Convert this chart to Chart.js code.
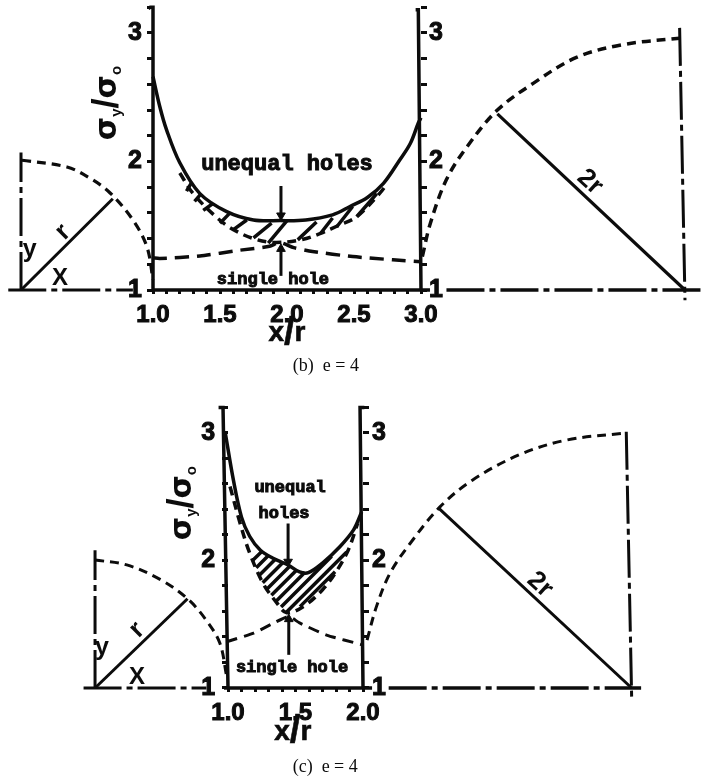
<!DOCTYPE html>
<html>
<head>
<meta charset="utf-8">
<style>
    html, body { margin: 0; background: #fff; }
    canvas { position: absolute; left: 0; display: block; }
</style>
<script src="https://cdn.jsdelivr.net/npm/chart.js@4"></script>
</head>
<body>
<canvas id="panel-b" width="702" height="390" style="top:0"></canvas>
<canvas id="panel-c" width="702" height="388" style="top:390px"></canvas>
<script>
// ---- shared tick labels ----
const yTicks = [1, 1.2, 1.4, 1.6, 1.8, 2, 2.2, 2.4, 2.6, 2.8, 3, 3.2];
const yLabelled = [1, 2, 3];

// ---- panel (b) e = 4 ----
const xTicksB = [1, 1.1, 1.2, 1.3, 1.4, 1.5, 1.6, 1.7, 1.8, 1.9, 2, 2.1, 2.2, 2.3, 2.4, 2.5, 2.6, 2.7, 2.8, 2.9, 3];
const xLabelledB = [1, 1.5, 2, 2.5, 3];

const unequalXB = [1, 1.05, 1.1, 1.2, 1.35, 1.55, 1.75, 1.95, 2.14, 2.34, 2.47, 2.6, 2.72, 2.84, 2.92, 2.98, 3];
const unequalYB = [2.66, 2.43, 2.25, 1.99, 1.75, 1.61, 1.545, 1.54, 1.545, 1.585, 1.65, 1.72, 1.83, 2.01, 2.14, 2.3, 2.34];
const lowerXB = [1.2, 1.3, 1.48, 1.6, 1.75, 1.9, 2.1, 2.25, 2.4, 2.52, 2.69, 2.75];
const lowerYB = [1.91, 1.75, 1.56, 1.47, 1.4, 1.37, 1.39, 1.44, 1.51, 1.57, 1.75, 1.83];
const singleXB = [1, 1.05, 1.35, 1.65, 1.87, 1.945, 2.05, 2.19, 2.49, 2.79, 3];
const singleYB = [1.25, 1.245, 1.265, 1.31, 1.34, 1.37, 1.33, 1.3, 1.26, 1.235, 1.22];
const hatchXB = [1.25, 1.29, null, 1.31, 1.36, null, 1.375, 1.45, null, 1.5, 1.575, null, 1.6, 1.7, null, 1.75, 1.885, null, 1.86, 2, null, 2.08, 2.22, null, 2.25, 2.34, null, 2.37, 2.49, null, 2.52, 2.67];
const hatchYB = [1.77, 1.84, null, 1.69, 1.75, null, 1.62, 1.675, null, 1.52, 1.6, null, 1.47, 1.545, null, 1.405, 1.52, null, 1.365, 1.54, null, 1.39, 1.53, null, 1.44, 1.56, null, 1.49, 1.65, null, 1.57, 1.75];
const smallArcXB = [0.022, 0.358, 0.53, 0.68, 0.85, 0.955, 1];
const smallArcYB = [2.01, 1.957, 1.87, 1.755, 1.545, 1.335, 1.08];
const bigArcXB = [3.01, 3.07, 3.19, 3.34, 3.57, 3.84, 4.16, 4.51, 4.93];
const bigArcYB = [1.26, 1.52, 1.86, 2.11, 2.4, 2.61, 2.81, 2.91, 2.96];

// ---- panel (c) e = 4 ----
const xTicksC = [1, 1.1, 1.2, 1.3, 1.4, 1.5, 1.6, 1.7, 1.8, 1.9, 2];
const xLabelledC = [1, 1.5, 2];

const unequalXC = [0.98, 1.04, 1.1, 1.16, 1.24, 1.33, 1.445, 1.53, 1.595, 1.7, 1.83, 1.93, 1.99];
const unequalYC = [3, 2.63, 2.34, 2.19, 2.08, 2.02, 1.965, 1.91, 1.905, 1.98, 2.11, 2.24, 2.38];
const lowerXC = [1.015, 1.09, 1.16, 1.26, 1.36, 1.435, 1.56, 1.7, 1.8, 1.89, 1.96];
const lowerYC = [2.58, 2.29, 2.06, 1.82, 1.67, 1.59, 1.64, 1.77, 1.91, 2.08, 2.29];
const singleXC = [0.99, 1.19, 1.34, 1.45, 1.53, 1.73, 1.99];
const singleYC = [1.363, 1.43, 1.51, 1.56, 1.51, 1.415, 1.34];
const hatchXC = [1.184, 1.252, null, 1.209, 1.301, null, 1.232, 1.35, null, 1.257, 1.405, null, 1.289, 1.459, null, 1.321, 1.509, null, 1.356, 1.57, null, 1.393, 1.768, null, 1.432, 1.879, null, 1.533, 1.793];
const hatchYC = [2.002, 2.072, null, 1.943, 2.041, null, 1.884, 2.009, null, 1.826, 1.983, null, 1.776, 1.957, null, 1.727, 1.925, null, 1.68, 1.907, null, 1.635, 2.033, null, 1.594, 2.067, null, 1.638, 1.912];
const smallArcXC = [0.015, 0.25, 0.5, 0.7, 0.84, 0.94, 0.99];
const smallArcYC = [2.004, 1.965, 1.85, 1.7, 1.53, 1.35, 1.09];
const bigArcXC = [2.03, 2.1, 2.2, 2.35, 2.57, 2.81, 3.16, 3.51, 3.95];
const bigArcYC = [1.376, 1.64, 1.9, 2.135, 2.42, 2.63, 2.83, 2.945, 3];

const INK = '#0c0c0c';

function zip(xs, ys) {
    return xs.map(function(x, i) { return {x: x, y: ys[i]}; });
}

// a plain polyline through the panel's own scales
function line(xs, ys, width, dash, tension) {
    return {
        data: zip(xs, ys),
        showLine: true,
        pointRadius: 0,
        borderColor: INK,
        borderWidth: width,
        borderDash: dash || [],
        tension: tension || 0,
        clip: false,
        spanGaps: false,
    };
}

function arrowHead(x, y, rotation) {
    return {
        data: [{x: x, y: y}],
        pointStyle: 'triangle',
        pointRadius: 5,
        rotation: rotation,
        backgroundColor: INK,
        borderColor: INK,
        clip: false,
    };
}

const DASH = [9, 6];
const DASH_DOT = [38, 5, 6, 5];

// text notes, placed with the data scales
const noteLabels = {
    id: 'noteLabels',
    afterDatasetsDraw: function(chart, args, options) {
        const ctx = chart.ctx;
        options.notes.forEach(function(note) {
            ctx.save();
            ctx.translate(chart.scales.x.getPixelForValue(note.x), chart.scales.y.getPixelForValue(note.y));
            ctx.rotate((note.angle || 0) * Math.PI / 180);
            ctx.fillStyle = INK;
            ctx.strokeStyle = INK;
            ctx.lineWidth = note.heavy || 0;
            ctx.textBaseline = 'middle';
            ctx.textAlign = 'center';
            // parts are laid out one after another, so subscripts can be smaller
            let parts = note.parts || [{text: note.text, font: note.font, dy: 0}];
            let total = 0;
            parts.forEach(function(part) {
                ctx.font = part.font;
                total += ctx.measureText(part.text).width;
            });
            let cursor = -total / 2;
            parts.forEach(function(part) {
                ctx.font = part.font;
                let w = ctx.measureText(part.text).width;
                ctx.fillText(part.text, cursor + w / 2, part.dy || 0);
                if (note.heavy) {
                    ctx.strokeText(part.text, cursor + w / 2, part.dy || 0);
                }
                cursor += w;
            });
            ctx.restore();
        });
    }
};

function sigmaParts() {
    const big = 'bold 30px "DejaVu Sans"';
    const small = 'bold 15px "Liberation Sans"';
    return [
        {text: 'σ', font: big},
        {text: 'y', font: small, dy: 9},
        {text: '/', font: 'bold 36px "Liberation Sans"'},
        {text: 'σ', font: big},
        {text: 'o', font: small, dy: 9},
    ];
}

function slashParts() {
    const letter = 'bold 28px "Liberation Sans"';
    return [
        {text: 'x', font: letter},
        {text: '/', font: 'bold 38px "Liberation Sans"'},
        {text: 'r', font: letter},
    ];
}

function drawPanel(id, panel) {
    new Chart(document.getElementById(id), {
        type: 'scatter',
        data: {datasets: panel.datasets},
        options: {
            responsive: false,
            animation: false,
            events: [],
            layout: {padding: 0, autoPadding: false},
            plugins: {
                legend: {display: false},
                title: {display: false},
                tooltip: {enabled: false},
                noteLabels: {notes: panel.notes},
            },
            scales: {
                x: {
                    type: 'linear',
                    min: panel.xLimits[0],
                    max: panel.xLimits[1],
                    position: {y: 1},
                    border: {display: false},
                    grid: {drawOnChartArea: false, tickLength: 4, tickWidth: 3, tickColor: INK},
                    afterBuildTicks: function(scale) {
                        scale.ticks = panel.xTicks.map(function(v) { return {value: v}; });
                    },
                    afterFit: zeroPadding,
                    ticks: {
                        autoSkip: false,
                        maxRotation: 0,
                        padding: 7,
                        color: INK,
                        textStrokeColor: INK,
                        textStrokeWidth: 1,
                        font: {family: '"Liberation Sans"', size: 24, weight: 'bold'},
                        callback: function(value) {
                            return panel.xLabelled.indexOf(value) >= 0 ? value.toFixed(1) : '';
                        }
                    }
                },
                y: tickScale(panel, {x: 1}),
                yRight: tickScale(panel, {x: panel.rightTickPos}),
                yLabelLeft: labelScale(panel, {x: panel.leftLabelPos}),
                yLabelRight: labelScale(panel, {x: panel.rightLabelPos}),
            }
        },
        plugins: [noteLabels]
    });
}

function zeroPadding(scale) {
    scale.paddingLeft = scale.paddingRight = scale.paddingTop = scale.paddingBottom = 0;
}

function tickScale(panel, position) {
    return {
        type: 'linear',
        min: panel.yLimits[0],
        max: panel.yLimits[1],
        position: position,
        border: {display: false},
        grid: {drawOnChartArea: false, tickLength: 6, tickWidth: 3, tickColor: INK},
        afterBuildTicks: function(scale) {
            scale.ticks = yTicks.map(function(v) { return {value: v}; });
        },
        afterFit: zeroPadding,
        ticks: {display: false, autoSkip: false}
    };
}

function labelScale(panel, position) {
    return {
        type: 'linear',
        min: panel.yLimits[0],
        max: panel.yLimits[1],
        position: position,
        border: {display: false},
        grid: {display: false, drawTicks: false},
        afterBuildTicks: function(scale) {
            scale.ticks = yLabelled.map(function(v) { return {value: v}; });
        },
        afterFit: zeroPadding,
        ticks: {
            autoSkip: false,
            padding: 0,
            color: INK,
            textStrokeColor: INK,
            textStrokeWidth: 1,
            font: {family: '"Liberation Sans"', size: 25, weight: 'bold'},
            callback: function(value) { return String(value); }
        }
    };
}

drawPanel('panel-b', {
    xLimits: [-0.1418, 5.097],
    yLimits: [0.2218, 3.2568],
    xTicks: xTicksB,
    xLabelled: xLabelledB,
    rightTickPos: 3.045,
    leftLabelPos: 0.918,
    rightLabelPos: 3.164,
    datasets: [
        line([1, 3.067], [1, 1], 3.5),
        line([0.965, 0.98, 1, 1], [3.19, 3.2, 3.2, 1], 3.5),
        line([2.96, 2.98, 3], [3.18, 3.18, 1], 3.5),
        line(unequalXB, unequalYB, 3.5, null, 0.35),
        line(lowerXB, lowerYB, 3.5, DASH, 0.35),
        line(singleXB, singleYB, 3.5, [14, 8], 0.2),
        line(hatchXB, hatchYB, 3.5),
        line(smallArcXB, smallArcYB, 3.2, DASH, 0.35),
        line(bigArcXB, bigArcYB, 3.5, DASH, 0.35),
        line([0.015, 0.7], [1, 1.71], 3),
        line([3.57, 4.97], [2.37, 1], 3.2),
        line([0.015, 0.015], [1, 2.07], 3, DASH_DOT),
        line([-0.08, 0.85], [1, 1], 3, DASH_DOT),
        line([3.19, 5.1], [1, 1], 3.5, DASH_DOT),
        line([4.93, 4.97], [3.04, 0.92], 3, DASH_DOT),
        line([1.955, 1.955], [1.81, 1.56], 3),
        arrowHead(1.955, 1.58, 180),
        line([1.955, 1.955], [1.11, 1.34], 3),
        arrowHead(1.955, 1.32, 0),
    ],
    notes: [
        {text: 'unequal holes', x: 2, y: 1.98, font: 'bold 22px "Liberation Mono"', heavy: 1},
        {text: 'single hole', x: 1.895, y: 1.08, font: 'bold 17px "Liberation Mono"', heavy: 1},
        {parts: slashParts(), x: 2, y: 0.665, heavy: 0.6},
        {text: '(b)  e = 4', x: 2.29, y: 0.41, font: '18px "Liberation Serif"'},
        {parts: sigmaParts(), x: 0.664, y: 2.455, angle: -90},
        {text: 'y', x: 0.08, y: 1.31, font: 'bold 25px "Liberation Sans"'},
        {text: 'X', x: 0.306, y: 1.09, font: 'bold 24px "Liberation Sans"'},
        {text: 'r', x: 0.328, y: 1.45, angle: -45, font: 'bold 26px "Liberation Sans"'},
        {text: '2r', x: 4.26, y: 1.84, angle: 42, font: 'bold 26px "Liberation Sans"'},
    ]
});

drawPanel('panel-c', {
    xLimits: [-0.689, 4.511],
    yLimits: [0.294, 3.337],
    xTicks: xTicksC,
    xLabelled: xLabelledC,
    rightTickPos: 2.045,
    leftLabelPos: 0.904,
    rightLabelPos: 2.17,
    datasets: [
        line([0.97, 2.067], [1, 1], 3.5),
        line([0.93, 0.963, 1], [3.2, 3.2, 1], 3.5),
        line([2.01, 1.978, 2], [3.2, 3.2, 1], 3.5),
        line(unequalXC, unequalYC, 3.5, null, 0.35),
        line(lowerXC, lowerYC, 3.5, DASH, 0.35),
        line(singleXC, singleYC, 3, [11, 7], 0.2),
        line(hatchXC, hatchYC, 3.5),
        line(smallArcXC, smallArcYC, 3, DASH, 0.35),
        line(bigArcXC, bigArcYC, 3, DASH, 0.35),
        line([0.015, 0.7], [1, 1.7], 3),
        line([2.56, 3.99], [2.41, 1], 3),
        line([0.015, 0.015], [1, 2.08], 3, DASH_DOT),
        line([-0.07, 0.84], [1, 1], 3, DASH_DOT),
        line([2.19, 4.06], [1, 1], 3.5, DASH_DOT),
        line([3.95, 3.99], [3.01, 0.92], 3, DASH_DOT),
        line([1.445, 1.445], [2.29, 1.98], 3),
        arrowHead(1.445, 1.99, 180),
        line([1.45, 1.45], [1.26, 1.56], 3),
        arrowHead(1.45, 1.54, 0),
    ],
    notes: [
        {text: 'unequal', x: 1.46, y: 2.57, font: 'bold 17px "Liberation Mono"', heavy: 1},
        {text: 'holes', x: 1.415, y: 2.37, font: 'bold 17px "Liberation Mono"', heavy: 1},
        {text: 'single hole', x: 1.474, y: 1.157, font: 'bold 17px "Liberation Mono"', heavy: 1},
        {parts: slashParts(), x: 1.48, y: 0.655, heavy: 0.6},
        {text: '(c)  e = 4', x: 1.72, y: 0.38, font: '18px "Liberation Serif"'},
        {parts: sigmaParts(), x: 0.667, y: 2.45, angle: -90},
        {text: 'y', x: 0.067, y: 1.31, font: 'bold 25px "Liberation Sans"'},
        {text: 'X', x: 0.326, y: 1.08, font: 'bold 24px "Liberation Sans"'},
        {text: 'r', x: 0.326, y: 1.455, angle: -45, font: 'bold 26px "Liberation Sans"'},
        {text: '2r', x: 3.31, y: 1.81, angle: 42, font: 'bold 26px "Liberation Sans"'},
    ]
});
</script>
</body>
</html>
